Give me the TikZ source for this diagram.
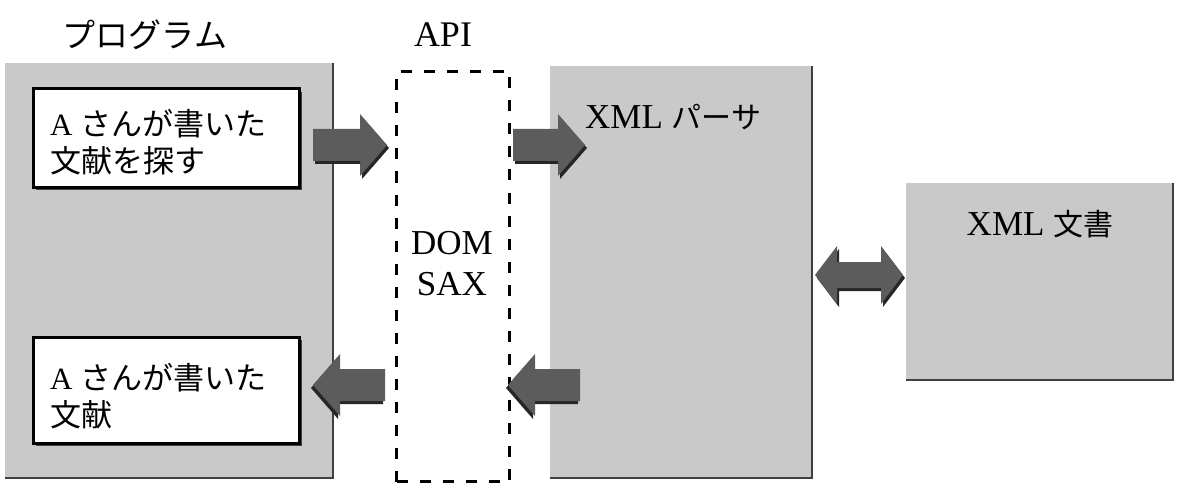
\documentclass[tikz,border=0pt]{standalone}
\usepackage{fontspec}
\setmainfont{Liberation Serif}
\newfontfamily\jp{Noto Sans CJK JP}
\begin{document}
\begin{tikzpicture}[x=1pt,y=-1pt,
  panel/.style={fill=black!21,draw=none,inner sep=0pt,outer sep=0pt,anchor=north west},
  rim/.style={draw=black!75,line width=2pt},
  wbox/.style={fill=white,draw=black,line width=3pt,inner sep=0pt,outer sep=0pt,anchor=north west},
  boxshade/.style={fill=black!75},
  apibox/.style={draw=black,line width=3pt,dash pattern=on 11pt off 12pt,inner sep=0pt,anchor=north west},
  label/.style={font=\fontsize{31}{37}\selectfont,align=left,anchor=west,inner sep=0pt},
  title/.style={font=\fontsize{33}{38}\selectfont,inner sep=0pt},
  latin/.style={font=\fontsize{35}{40}\selectfont,inner sep=0pt},
  arrfill/.style={fill=black!64},
  arrshade/.style={fill=black!85},
  rarr/.pic={
    \begin{scope}[shift={(2,3)}]
      \fill[arrshade] (0,-16) -- ({#1-27},-16) -- ({#1-27},-31) -- (#1,0) -- ({#1-27},31) -- ({#1-27},16) -- (0,16) -- cycle;
    \end{scope}
    \fill[arrfill] (0,-16) -- ({#1-27},-16) -- ({#1-27},-31) -- (#1,0) -- ({#1-27},31) -- ({#1-27},16) -- (0,16) -- cycle;
  },
  darr/.pic={
    \begin{scope}[shift={(2,3)}]
      \fill[arrshade] (0,0) -- (22,-29) -- (22,-13) -- ({#1-22},-13) -- ({#1-22},-29) -- (#1,0) -- ({#1-22},29) -- ({#1-22},13) -- (22,13) -- (22,29) -- cycle;
    \end{scope}
    \fill[arrfill] (0,0) -- (22,-29) -- (22,-13) -- ({#1-22},-13) -- ({#1-22},-29) -- (#1,0) -- ({#1-22},29) -- ({#1-22},13) -- (22,13) -- (22,29) -- cycle;
  }]
\path[use as bounding box] (0,0) rectangle (1181,484);

% column titles
\node[title] (tprog) at (145,35) {\jp プログラム};
\node[title,font=\fontsize{36}{40}\selectfont] (tapi) at (443,35) {API};

% program panel
\node[panel,minimum width=328,minimum height=415] (prog) at (5,63) {};
\draw[rim] (prog.north east) -- (prog.south east) -- (prog.south west);

% parser panel
\node[panel,minimum width=262,minimum height=412] (parser) at (550,66) {};
\draw[rim] (parser.north east) -- (parser.south east) -- (parser.south west);
\node[latin,anchor=west] (tparser) at (585,117) {XML {\jp\fontsize{30}{36}\selectfont パーサ}};

% document panel
\node[panel,minimum width=267,minimum height=197] (doc) at (906,183) {};
\draw[rim] (doc.north east) -- (doc.south east) -- (doc.south west);
\node[latin] (tdoc) at (1040,224) {XML {\jp\fontsize{30}{36}\selectfont 文書}};

% request and result boxes
\fill[boxshade] (36,92) rectangle (302,190);
\node[wbox,minimum width=266,minimum height=98] (query) at (33,89) {};
\node[label] (tquery) at (50,142) {A\ {\jp さんが書いた}\\{\jp 文献を探す}};

\fill[boxshade] (36,340) rectangle (302,446);
\node[wbox,minimum width=266,minimum height=106] (result) at (33,337) {};
\node[label] (tresult) at (50,396) {A\ {\jp さんが書いた}\\{\jp 文献}};

% API layer
\node[apibox,minimum width=113,minimum height=410] (api) at (395,70) {};
\node[latin] (dom) at (452,243) {DOM};
\node[latin] (sax) at (452,284) {SAX};

% data flow arrows
\pic at (313,145) {rarr=74};
\pic at (513,145) {rarr=72};
\pic[xscale=-1] at (580,385) {rarr=72};
\pic[xscale=-1] at (385,385) {rarr=72};
\pic at (815,275) {darr=88};
\end{tikzpicture}
\end{document}
